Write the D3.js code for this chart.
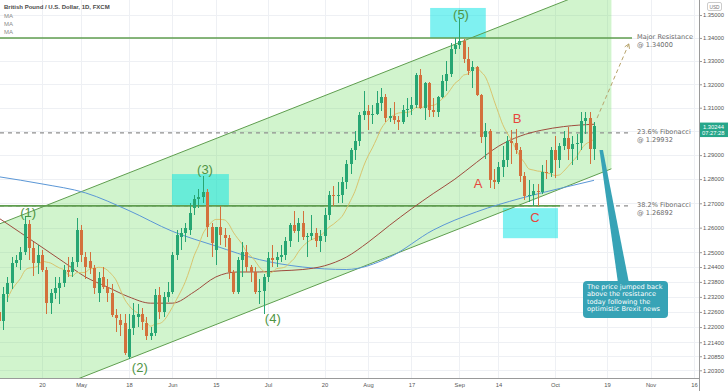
<!DOCTYPE html>
<html><head><meta charset="utf-8">
<script src="https://cdn.jsdelivr.net/npm/d3@7"></script>
<style>body{margin:0;background:#fff;}svg{display:block;}</style>
</head><body>
<svg id="c" width="728" height="391"></svg>
<script>
// ---------- DATA ----------
// daily GBP/USD candles, trading days from 2020-04-06 to 2020-10-14
const firstDay = "2020-04-06";
const opens = [1.2260,1.2225,1.2330,1.2375,1.2456,1.2470,1.2500,1.2615,1.2516,1.2456,
1.2488,1.2427,1.2295,1.2335,1.2355,1.2375,1.2427,1.2420,1.2460,
1.2590,1.2480,1.2465,1.2436,1.2335,1.2399,1.2359,1.2335,1.2247,1.2227,1.2215,1.2081,1.2195,1.2240,1.2250,1.2215,1.2165,1.2175,1.2327,1.2259,1.2319,
1.2339,1.2488,1.2560,1.2578,1.2590,1.2680,1.2718,1.2726,1.2746,1.2602,1.2508,1.2602,1.2570,1.2557,1.2419,1.2339,1.2468,1.2500,1.2440,1.2420,1.2340,1.2345,
1.2400,1.2475,1.2470,1.2480,1.2490,1.2545,1.2610,1.2585,1.2620,1.2560,1.2565,1.2580,1.2545,1.2565,1.2650,1.2735,1.2730,1.2735,1.2790,1.2865,1.2920,1.2960,1.3070,
1.3085,1.3070,1.3075,1.3120,1.3145,1.3055,1.3065,1.3050,1.3040,1.3090,1.3095,1.3110,1.3240,1.3100,1.3205,1.3090,1.3080,1.3145,1.3215,1.3245,1.3350,
1.3370,1.3385,1.3310,1.3255,1.3275,1.3155,1.2975,1.3000,1.2795,1.2790,1.2850,1.2880,1.2960,1.2950,1.2920,1.2815,1.2730,1.2735,1.2750,1.2745,1.2830,1.2825,
1.2920,1.2880,1.2940,1.2970,1.2925,1.2945,1.2950,1.3045,1.3055,1.2925];
const highs = [1.2290,1.2360,1.2400,1.2480,1.2490,1.2520,1.2647,1.2630,1.2540,1.2530,
1.2510,1.2440,1.2350,1.2400,1.2400,1.2450,1.2480,1.2480,1.2640,
1.2610,1.2500,1.2500,1.2450,1.2420,1.2440,1.2390,1.2370,1.2270,1.2250,1.2250,1.2250,1.2295,1.2290,1.2275,1.2240,1.2200,1.2350,1.2360,1.2340,1.2380,
1.2500,1.2590,1.2600,1.2620,1.2700,1.2735,1.2760,1.2813,1.2760,1.2620,1.2580,1.2688,1.2600,1.2570,1.2430,1.2480,1.2540,1.2530,1.2450,1.2440,1.2390,1.2410,
1.2500,1.2530,1.2500,1.2530,1.2560,1.2620,1.2670,1.2640,1.2670,1.2580,1.2650,1.2600,1.2590,1.2680,1.2750,1.2770,1.2790,1.2810,1.2880,1.2930,1.3000,1.3080,1.3170,
1.3110,1.3110,1.3170,1.3185,1.3160,1.3100,1.3125,1.3065,1.3110,1.3140,1.3145,1.3250,1.3265,1.3210,1.3210,1.3140,1.3150,1.3240,1.3300,1.3380,1.3400,
1.3482,1.3395,1.3360,1.3300,1.3280,1.3160,1.3035,1.3010,1.2840,1.2870,1.2940,1.2980,1.3005,1.3010,1.2935,1.2830,1.2795,1.2780,1.2780,1.2860,1.2880,1.2935,
1.2980,1.2950,1.3000,1.3020,1.2980,1.2990,1.3080,1.3080,1.3080,1.3040];
const lows = [1.2165,1.2190,1.2300,1.2350,1.2440,1.2430,1.2490,1.2470,1.2405,1.2410,
1.2420,1.2250,1.2250,1.2310,1.2290,1.2360,1.2400,1.2400,1.2440,
1.2460,1.2390,1.2410,1.2330,1.2300,1.2350,1.2300,1.2240,1.2180,1.2165,1.2090,1.2075,1.2170,1.2200,1.2190,1.2150,1.2150,1.2165,1.2230,1.2240,1.2300,
1.2330,1.2470,1.2510,1.2540,1.2570,1.2650,1.2680,1.2700,1.2560,1.2480,1.2450,1.2530,1.2520,1.2390,1.2330,1.2330,1.2400,1.2420,1.2380,1.2330,1.2290,1.2252,
1.2380,1.2440,1.2440,1.2460,1.2470,1.2520,1.2580,1.2540,1.2550,1.2480,1.2550,1.2520,1.2500,1.2540,1.2630,1.2690,1.2700,1.2700,1.2760,1.2820,1.2880,1.2940,1.3050,
1.3005,1.3030,1.3070,1.3085,1.3040,1.3040,1.3030,1.3005,1.3030,1.3060,1.3070,1.3100,1.3095,1.3050,1.3060,1.3060,1.3060,1.3140,1.3170,1.3230,1.3330,
1.3350,1.3290,1.3240,1.3185,1.3150,1.2950,1.2885,1.2765,1.2760,1.2780,1.2810,1.2850,1.2865,1.2905,1.2790,1.2715,1.2705,1.2690,1.2690,1.2740,1.2800,1.2810,
1.2805,1.2845,1.2920,1.2880,1.2860,1.2880,1.2920,1.2990,1.2865,1.2880];
const closes = [1.2225,1.2330,1.2375,1.2456,1.2470,1.2500,1.2615,1.2516,1.2456,1.2490,
1.2427,1.2295,1.2335,1.2355,1.2375,1.2427,1.2420,1.2460,1.2590,
1.2488,1.2440,1.2436,1.2357,1.2395,1.2359,1.2335,1.2247,1.2235,1.2207,1.2097,1.2191,1.2247,1.2250,1.2220,1.2165,1.2175,1.2327,1.2259,1.2319,1.2339,
1.2488,1.2570,1.2578,1.2598,1.2660,1.2718,1.2726,1.2746,1.2602,1.2537,1.2602,1.2570,1.2557,1.2419,1.2339,1.2468,1.2500,1.2440,1.2420,1.2340,1.2345,1.2400,
1.2475,1.2470,1.2480,1.2490,1.2545,1.2610,1.2585,1.2620,1.2560,1.2565,1.2580,1.2545,1.2565,1.2650,1.2735,1.2730,1.2735,1.2790,1.2865,1.2920,1.2960,1.3070,1.3085,
1.3070,1.3075,1.3120,1.3145,1.3055,1.3065,1.3050,1.3040,1.3090,1.3095,1.3110,1.3240,1.3100,1.3205,1.3090,1.3080,1.3145,1.3215,1.3245,1.3350,1.3370,
1.3385,1.3310,1.3255,1.3275,1.3155,1.2975,1.3000,1.2795,1.2790,1.2850,1.2880,1.2960,1.2950,1.2920,1.2815,1.2730,1.2735,1.2750,1.2745,1.2830,1.2825,1.2920,
1.2880,1.2940,1.2970,1.2925,1.2945,1.2950,1.3045,1.3055,1.2925,1.30244];

// moving averages
const maMidDates = ["2020-04-06","2020-04-13","2020-04-20","2020-04-27","2020-05-04","2020-05-11","2020-05-18","2020-05-25","2020-06-01","2020-06-08","2020-06-15","2020-06-22","2020-06-29","2020-07-06","2020-07-13","2020-07-20","2020-07-27","2020-08-03","2020-08-10","2020-08-17","2020-08-24","2020-08-31","2020-09-07","2020-09-14","2020-09-21","2020-09-28","2020-10-05","2020-10-14"];
const maMidValues = [1.2640,1.2580,1.2520,1.2460,1.2400,1.2360,1.2320,1.2295,1.2295,1.2340,1.2400,1.2420,1.2420,1.2425,1.2430,1.2445,1.2480,1.2540,1.2610,1.2677,1.2740,1.2800,1.2870,1.2937,1.2980,1.3005,1.3020,1.3030];
const maSlowDates = ["2020-04-06","2020-04-20","2020-05-04","2020-05-18","2020-06-01","2020-06-15","2020-06-29","2020-07-13","2020-07-27","2020-08-10","2020-08-24","2020-09-07","2020-09-21","2020-10-05","2020-10-14"];
const maSlowValues = [1.2810,1.2780,1.2743,1.2670,1.2585,1.2525,1.2470,1.2440,1.2430,1.2480,1.2590,1.2665,1.2720,1.2765,1.2795];
const maFastPeriod = 10;

// axis ticks
const xTickDates = ["2020-04-20","2020-05-01","2020-05-18","2020-06-01","2020-06-15","2020-07-01","2020-07-20","2020-08-03","2020-08-17","2020-09-01","2020-09-14","2020-10-01","2020-10-19","2020-11-02","2020-11-16"];
const xTickLabels = ["20","May","18","Jun","15","Jul","20","Aug","17","Sep","14","Oct","19","Nov","16"];
const yTickValues = [1.35,1.34,1.33,1.32,1.31,1.29,1.28,1.27,1.26,1.25,1.244,1.238,1.232,1.226,1.22,1.214,1.2085,1.203];
const yGridValues = [1.35,1.34,1.33,1.32,1.31,1.30,1.29,1.28,1.27,1.26,1.25,1.244,1.238,1.232,1.226,1.22,1.214,1.2085,1.203];

// annotations (date index / price)
const resistanceLevels = [1.34000, 1.26892];
const fibLevels = [1.29932, 1.26892];
const fibTexts = [["Major Resistance","@ 1.34000"],["23.6% Fibonacci","@ 1.29932"],["38.2% Fibonacci","@ 1.26892"]];
const fibTextLevels = [1.34000, 1.29932, 1.26892];
const channelAnchorIdx = [30, 141];
const channelLower = [1.2075, 1.2843];
const channelUpper = [1.2826, 1.3643];
const waveNames = ["(1)","(2)","(3)","(4)","(5)"];
const waveIdx = [6.8, 32.5, 47.5, 63.1, 106.4];
const wavePrice = [1.2643, 1.2022, 1.2821, 1.2215, 1.3482];
const abcNames = ["A","B","C"];
const abcIdx = [110.3, 119.3, 123.4];
const abcPrice = [1.2763, 1.3035, 1.2622];
const boxIdx = [[39.9,53.0],[99.3,112.1],[116.05,128.7]];
const boxPrice = [[1.2821,1.26892],[1.3531,1.3400],[1.2680,1.2557]];
const arrowIdx = [137.7, 145.0];
const arrowPrice = [1.3056, 1.3374];
const calloutLines = ["The price jumped back","above the resistance","today following the","optimistic Brexit news"];

// ---------- SCALES ----------
const W = 728, H = 391, plotR = 699, plotB = 378;
const calendar = d3.timeDays(new Date(2020,3,6), new Date(2020,10,25)).filter(d => d.getDay()!==0 && d.getDay()!==6);
const fmt = d3.timeFormat("%Y-%m-%d");
const idxOf = s => calendar.findIndex(d => fmt(d) === s);
const N = closes.length;

const x = d3.scaleLinear().domain([idxOf("2020-04-20"), idxOf("2020-11-16")]).range([42, 694]);
const y = d3.scaleLog().domain([1.2, 1.3566]).range([plotB, 0]);

const svg = d3.select("#c");
svg.append("rect").attr("width", W).attr("height", H).attr("fill", "#fff");
svg.append("defs").append("clipPath").attr("id","plot").append("rect").attr("width", plotR).attr("height", plotB);
const g = svg.append("g").attr("clip-path","url(#plot)");

// grid
const xTickIdx = xTickDates.map(idxOf);
g.selectAll(".hg").data(yGridValues).join("line")
  .attr("x1",0).attr("x2",plotR).attr("y1",d=>Math.round(y(d))+0.5).attr("y2",d=>Math.round(y(d))+0.5)
  .attr("stroke","#eef0f4");
g.selectAll(".vg").data(xTickIdx).join("line")
  .attr("y1",0).attr("y2",plotB).attr("x1",d=>Math.round(x(d))+0.5).attr("x2",d=>Math.round(x(d))+0.5)
  .attr("stroke","#eef0f4");

// channel
function extendLine(i0,p0,i1,p1,xa,xb){
  const X0=x(i0),Y0=y(p0),X1=x(i1),Y1=y(p1),m=(Y1-Y0)/(X1-X0);
  return [[xa,Y0+m*(xa-X0)],[xb,Y0+m*(xb-X0)]];
}
const cRight = x(channelAnchorIdx[1]);
const up = extendLine(channelAnchorIdx[0],channelUpper[0],channelAnchorIdx[1],channelUpper[1],-20,cRight);
const lo = extendLine(channelAnchorIdx[0],channelLower[0],channelAnchorIdx[1],channelLower[1],-20,cRight);
g.append("path").attr("d", d3.line()([up[0],up[1],lo[1],lo[0]])+"Z")
  .attr("fill","rgba(102,220,90,0.3)");

// cyan boxes
g.selectAll(".box").data(boxIdx).join("rect")
  .attr("x",(d)=>x(d[0])).attr("width",d=>x(d[1])-x(d[0]))
  .attr("y",(d,i)=>y(boxPrice[i][0])).attr("height",(d,i)=>y(boxPrice[i][1])-y(boxPrice[i][0]))
  .attr("fill","rgba(0,228,228,0.5)");

// fib dashed lines
const lineEnd = 632;
g.selectAll(".fib").data(fibLevels).join("line")
  .attr("x1",0).attr("x2",lineEnd).attr("y1",d=>y(d)).attr("y2",d=>y(d))
  .attr("stroke","#8f8f8f").attr("stroke-width",1.3).attr("stroke-dasharray","4,4");
// solid resistance lines
g.selectAll(".res").data(resistanceLevels).join("line")
  .attr("x1",0).attr("x2",(d,i)=> i===0 ? lineEnd : 560).attr("y1",d=>y(d)).attr("y2",d=>y(d))
  .attr("stroke","#5f9e4f").attr("stroke-width",1.6);

// channel lines
[up,lo].forEach(L => g.append("line").attr("x1",L[0][0]).attr("y1",L[0][1]).attr("x2",L[1][0]).attr("y2",L[1][1])
  .attr("stroke","#5f9e4f").attr("stroke-width",1));

// moving averages
const maFast = closes.map((c,i)=>d3.mean(closes.slice(Math.max(0,i-maFastPeriod+1),i+1)));
const lineGen = d3.line().x(d=>x(d[0])).y(d=>y(d[1])).curve(d3.curveMonotoneX);
g.append("path").attr("d", lineGen(maSlowDates.map((d,i)=>[idxOf(d),maSlowValues[i]])))
  .attr("fill","none").attr("stroke","#5b97d6").attr("stroke-width",1);
g.append("path").attr("d", lineGen(maMidDates.map((d,i)=>[idxOf(d),maMidValues[i]])))
  .attr("fill","none").attr("stroke","#9e4c3e").attr("stroke-width",1);
g.append("path").attr("d", lineGen(maFast.map((v,i)=>[i,v]).slice(2)))
  .attr("fill","none").attr("stroke","#d8c46e").attr("stroke-width",1);

// candles
const candles = d3.range(N).map(i=>({i,o:opens[i],h:highs[i],l:lows[i],c:closes[i]}));
const col = d => d.c >= d.o ? "#27a673" : "#d3703c";
const cg = g.append("g").attr("shape-rendering","crispEdges");
cg.selectAll(".wick").data(candles).join("line")
  .attr("x1",d=>Math.round(x(d.i))+0.5).attr("x2",d=>Math.round(x(d.i))+0.5)
  .attr("y1",d=>y(d.h)).attr("y2",d=>y(d.l)).attr("stroke",col);
cg.selectAll(".body").data(candles).join("rect")
  .attr("x",d=>Math.round(x(d.i))-1).attr("width",3)
  .attr("y",d=>y(Math.max(d.o,d.c))).attr("height",d=>Math.max(1,Math.abs(y(d.o)-y(d.c))))
  .attr("fill",col);

// wave labels
g.selectAll(".wave").data(waveNames).join("text")
  .attr("x",(d,i)=>x(waveIdx[i])).attr("y",(d,i)=>y(wavePrice[i]))
  .attr("text-anchor","middle").attr("font-family","Liberation Sans, Arial, sans-serif")
  .attr("font-size",13).attr("fill","#4f9444").text(d=>d);
g.selectAll(".abc").data(abcNames).join("text")
  .attr("x",(d,i)=>x(abcIdx[i])).attr("y",(d,i)=>y(abcPrice[i]))
  .attr("text-anchor","middle").attr("font-family","Liberation Sans, Arial, sans-serif")
  .attr("font-size",13).attr("fill","#e6463c").text(d=>d);

// dashed projection arrow
const a0=[x(arrowIdx[0]),y(arrowPrice[0])], a1=[x(arrowIdx[1]),y(arrowPrice[1])];
g.append("line").attr("x1",a0[0]).attr("y1",a0[1]).attr("x2",a1[0]).attr("y2",a1[1])
  .attr("stroke","#b8a46c").attr("stroke-width",1).attr("stroke-dasharray","4,3");
const ang = Math.atan2(a1[1]-a0[1],a1[0]-a0[0]);
[ang+2.6, ang-2.6].forEach(t=>g.append("line").attr("x1",a1[0]).attr("y1",a1[1])
  .attr("x2",a1[0]+5*Math.cos(t)).attr("y2",a1[1]+5*Math.sin(t)).attr("stroke","#b8a46c").attr("stroke-width",1));

// right annotation texts
fibTexts.forEach((t,i)=>{
  const yy = y(fibTextLevels[i]);
  t.forEach((s,k)=>svg.append("text").attr("x",637).attr("y",yy+1+k*8)
    .attr("font-family","DejaVu Sans, Verdana, sans-serif").attr("font-size",6.6).attr("fill","#6b6b6b").text(s));
});

// callout
const tipX = x(138.6), tipY = y(1.2921);
svg.append("path").attr("d", d3.line()([[tipX-1.5,tipY],[tipX+2,tipY],[629,283],[618,283]])+"Z").attr("fill","#37a3b6");
svg.append("rect").attr("x",583).attr("y",281).attr("width",85).attr("height",37).attr("rx",4).attr("fill","#37a3b6");
calloutLines.forEach((s,k)=>svg.append("text").attr("x",587).attr("y",289+k*7.3)
  .attr("font-family","DejaVu Sans, Verdana, sans-serif").attr("font-size",6.6).attr("fill","#fff").text(s));

// axes
const yAxis = d3.axisRight(y).tickValues(yTickValues).tickFormat(d3.format(".5f")).tickSize(3).tickPadding(1);
const ya = svg.append("g").attr("transform",`translate(${plotR},0)`).call(yAxis);
ya.select(".domain").remove();
ya.selectAll("line").attr("stroke","#999");
ya.selectAll("text").attr("font-family","Liberation Sans, Arial, sans-serif").attr("font-size",5.8).attr("fill","#555");
const xAxis = d3.axisBottom(x).tickValues(xTickIdx).tickFormat((d,i)=>xTickLabels[i]).tickSize(0).tickPadding(5);
const xa = svg.append("g").attr("transform",`translate(0,${plotB})`).call(xAxis);
xa.select(".domain").remove();
xa.selectAll("text").attr("font-family","Liberation Sans, Arial, sans-serif").attr("font-size",5.8).attr("fill","#555");
svg.append("line").attr("x1",0).attr("x2",plotR).attr("y1",plotB+0.5).attr("y2",plotB+0.5).attr("stroke","#9a9a9a");
svg.append("line").attr("x1",plotR+0.5).attr("x2",plotR+0.5).attr("y1",0).attr("y2",H).attr("stroke","#9a9a9a");

// last price label
const lastY = y(closes[N-1]);
svg.append("rect").attr("x",700).attr("y",lastY-3).attr("width",28).attr("height",14.5).attr("fill","#26a68a");
svg.append("text").attr("x",703).attr("y",lastY+3).attr("font-family","Liberation Sans, Arial, sans-serif").attr("font-size",5.8).attr("fill","#fff").text(d3.format(".5f")(closes[N-1]));
svg.append("text").attr("x",702).attr("y",lastY+9.8).attr("font-family","Liberation Sans, Arial, sans-serif").attr("font-size",5.8).attr("fill","#fff").text("07:27:28");

// USD badge
svg.append("rect").attr("x",707.5).attr("y",2.5).attr("width",14).attr("height",8).attr("rx",1.5).attr("fill","#fff").attr("stroke","#ccc");
svg.append("text").attr("x",714.5).attr("y",8.6).attr("text-anchor","middle").attr("font-family","Liberation Sans, Arial, sans-serif").attr("font-size",4.8).attr("fill","#777").text("USD");

// title & legend
svg.append("text").attr("x",4).attr("y",9).attr("font-family","Liberation Sans, Arial, sans-serif").attr("font-size",6).attr("font-weight","bold").attr("fill","#4a4a4a").text("British Pound / U.S. Dollar, 1D, FXCM");
["MA","MA","MA"].forEach((s,k)=>svg.append("text").attr("x",4).attr("y",17.5+k*8).attr("font-family","Liberation Sans, Arial, sans-serif").attr("font-size",6).attr("fill","#8a8a8a").text(s));
</script>
</body></html>
